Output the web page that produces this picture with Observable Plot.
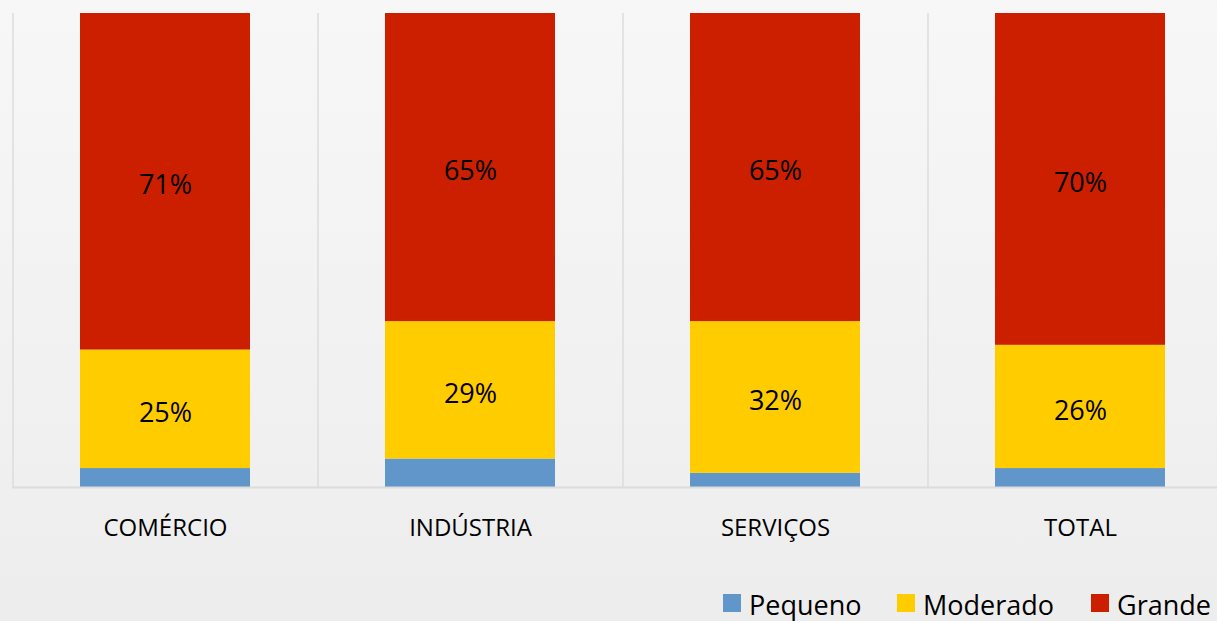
<!DOCTYPE html>
<html>
<head>
<meta charset="utf-8">
<script src="https://cdn.jsdelivr.net/npm/d3@7"></script>
<script src="https://cdn.jsdelivr.net/npm/@observablehq/plot@0.6"></script>
<style>
  html, body { margin: 0; padding: 0; }
  body {
    width: 1217px; height: 621px; overflow: hidden; position: relative;
    background: linear-gradient(to bottom, #f7f7f7 0%, #efefef 80%, #ededed 100%);
    font-family: "Open Sans", sans-serif;
  }
  #chart svg { display: block; background: transparent; }
  #legend { position: absolute; left: 0; top: 0; width: 1217px; height: 621px; pointer-events: none; }
  #legend .sw { position: absolute; top: 594px; width: 18px; height: 18px; }
  #legend .lab { position: absolute; top: 587px; font-size: 27px; line-height: 36px; color: #000; white-space: nowrap; }
</style>
</head>
<body>
<div id="chart"></div>
<div id="legend"></div>
<script>
const categories = ["COMÉRCIO", "INDÚSTRIA", "SERVIÇOS", "TOTAL"];
const seriesNames = ["Pequeno", "Moderado", "Grande"];
const seriesColors = ["#6096ca", "#ffcc00", "#cc1f00"];
const pequeno  = [4, 6, 3, 4];
const moderado = [25, 29, 32, 26];
const grande   = [71, 65, 65, 70];

const seriesValues = [pequeno, moderado, grande];
const data = [];
seriesNames.forEach((s, si) => categories.forEach((c, ci) => data.push({cat: c, series: s, value: seriesValues[si][ci]})));

const W = 1217, H = 621;
const xRange = [12, 1232];
const step = (xRange[1] - xRange[0]) / categories.length;

const plot = Plot.plot({
  width: W, height: H,
  marginTop: 13, marginBottom: 134, marginLeft: 12, marginRight: 0,
  style: {background: "transparent", fontFamily: "'Open Sans', sans-serif", overflow: "visible"},
  x: {domain: categories, range: xRange, paddingInner: 0.443, paddingOuter: 0.2215, axis: null, label: null},
  y: {domain: [0, 100], axis: null},
  color: {domain: seriesNames, range: seriesColors},
  marks: [
    Plot.ruleX(categories, {x: d => d, dx: -step / 2, y1: 0, y2: 100, stroke: "#dcdcdc", strokeWidth: 1.5}),
    Plot.barY(data, Plot.stackY({x: "cat", y: "value", fill: "series", order: seriesNames})),
    Plot.ruleY([0], {stroke: "#dcdcdc", strokeWidth: 2}),
    Plot.text(data, Plot.stackY({x: "cat", y: "value", z: "series", order: seriesNames,
      text: d => d.series === "Pequeno" ? null : d.value + "%", fill: "#000", fontSize: 27, dy: 4})),
    Plot.axisX({domain: categories, tickSize: 0, tickPadding: 31, fontSize: 24, fill: "#000", label: null})
  ]
});
document.getElementById("chart").appendChild(plot);

const legend = document.getElementById("legend");
const swLeft = [723, 897, 1091];
seriesNames.forEach((s, i) => {
  const sw = document.createElement("div");
  sw.className = "sw"; sw.style.background = seriesColors[i]; sw.style.left = swLeft[i] + "px";
  const t = document.createElement("div");
  t.className = "lab"; t.textContent = s; t.style.left = (swLeft[i] + 26) + "px";
  legend.appendChild(sw); legend.appendChild(t);
});
</script>
</body>
</html>
